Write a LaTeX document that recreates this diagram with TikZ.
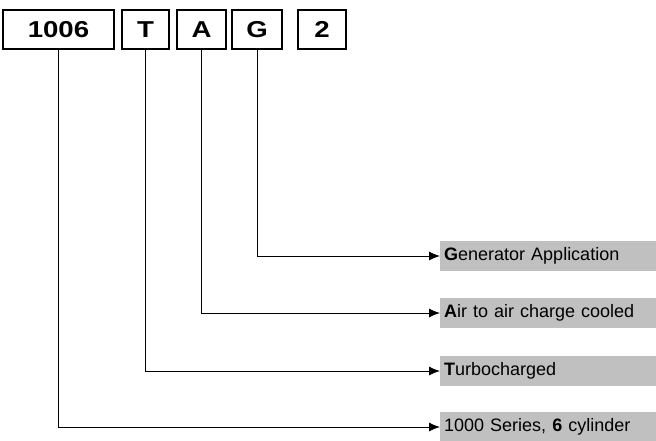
\documentclass[tikz,border=0pt]{standalone}
\usepackage{fontspec}
\setmainfont{Liberation Sans}
\newfontfamily\codefont{Liberation Sans}[FakeStretch=1.2]
\usepackage{tikz}
\usetikzlibrary{arrows.meta}
\usetikzlibrary{positioning}

\begin{document}
\begin{tikzpicture}[x=1pt,y=-1pt]
				\tikzset{codebox/.style = {shape=rectangle,draw,line width=1.4pt,
						minimum height=39pt, inner sep=0pt,
						font=\codefont\fontsize{23}{25}\selectfont\bfseries}}
				\tikzset{desc/.style = {shape=rectangle,fill={rgb,255:red,192;green,192;blue,192},
						anchor=west, minimum height=30pt, text width=208pt,
						inner sep=4pt, align=left, font=\fontsize{18}{21}\selectfont}}
				\tikzset{edge/.style = {-{Latex[length=11pt,width=9pt]}, line width=0.9pt}}
				
				\useasboundingbox (0,0) rectangle (656,440);
				
				% code boxes
				\node[codebox, line width=1.9pt, minimum width=111pt] (c1006) at (58.5,29.5) {1006};
				\node[codebox, minimum width=47pt] (cT) at (145.5,29.5) {T};
				\node[codebox, minimum width=49pt] (cA) at (201.5,29.5) {A};
				\node[codebox, minimum width=50pt] (cG) at (257,29.5) {G};
				\node[codebox, minimum width=48pt] (c2) at (322,29.5) {2};
				
				% meanings
				\node[desc] (dG) at (440,256) {\textbf{G}enerator Application};
				\node[desc] (dA) at (440,313) {\textbf{A}ir to air charge cooled};
				\node[desc] (dT) at (440,371) {\textbf{T}urbocharged};
				\node[desc] (d1006) at (440,427) {1000 Series, \textbf{6} cylinder};
				
				%edges
				
				\draw[edge] (cG.south) |- (dG.west);
				\draw[edge] (cA.south) |- (dA.west);
				\draw[edge] (cT.south) |- (dT.west);
				\draw[edge] (c1006.south) |- (d1006.west);
				
\end{tikzpicture}
\end{document}
